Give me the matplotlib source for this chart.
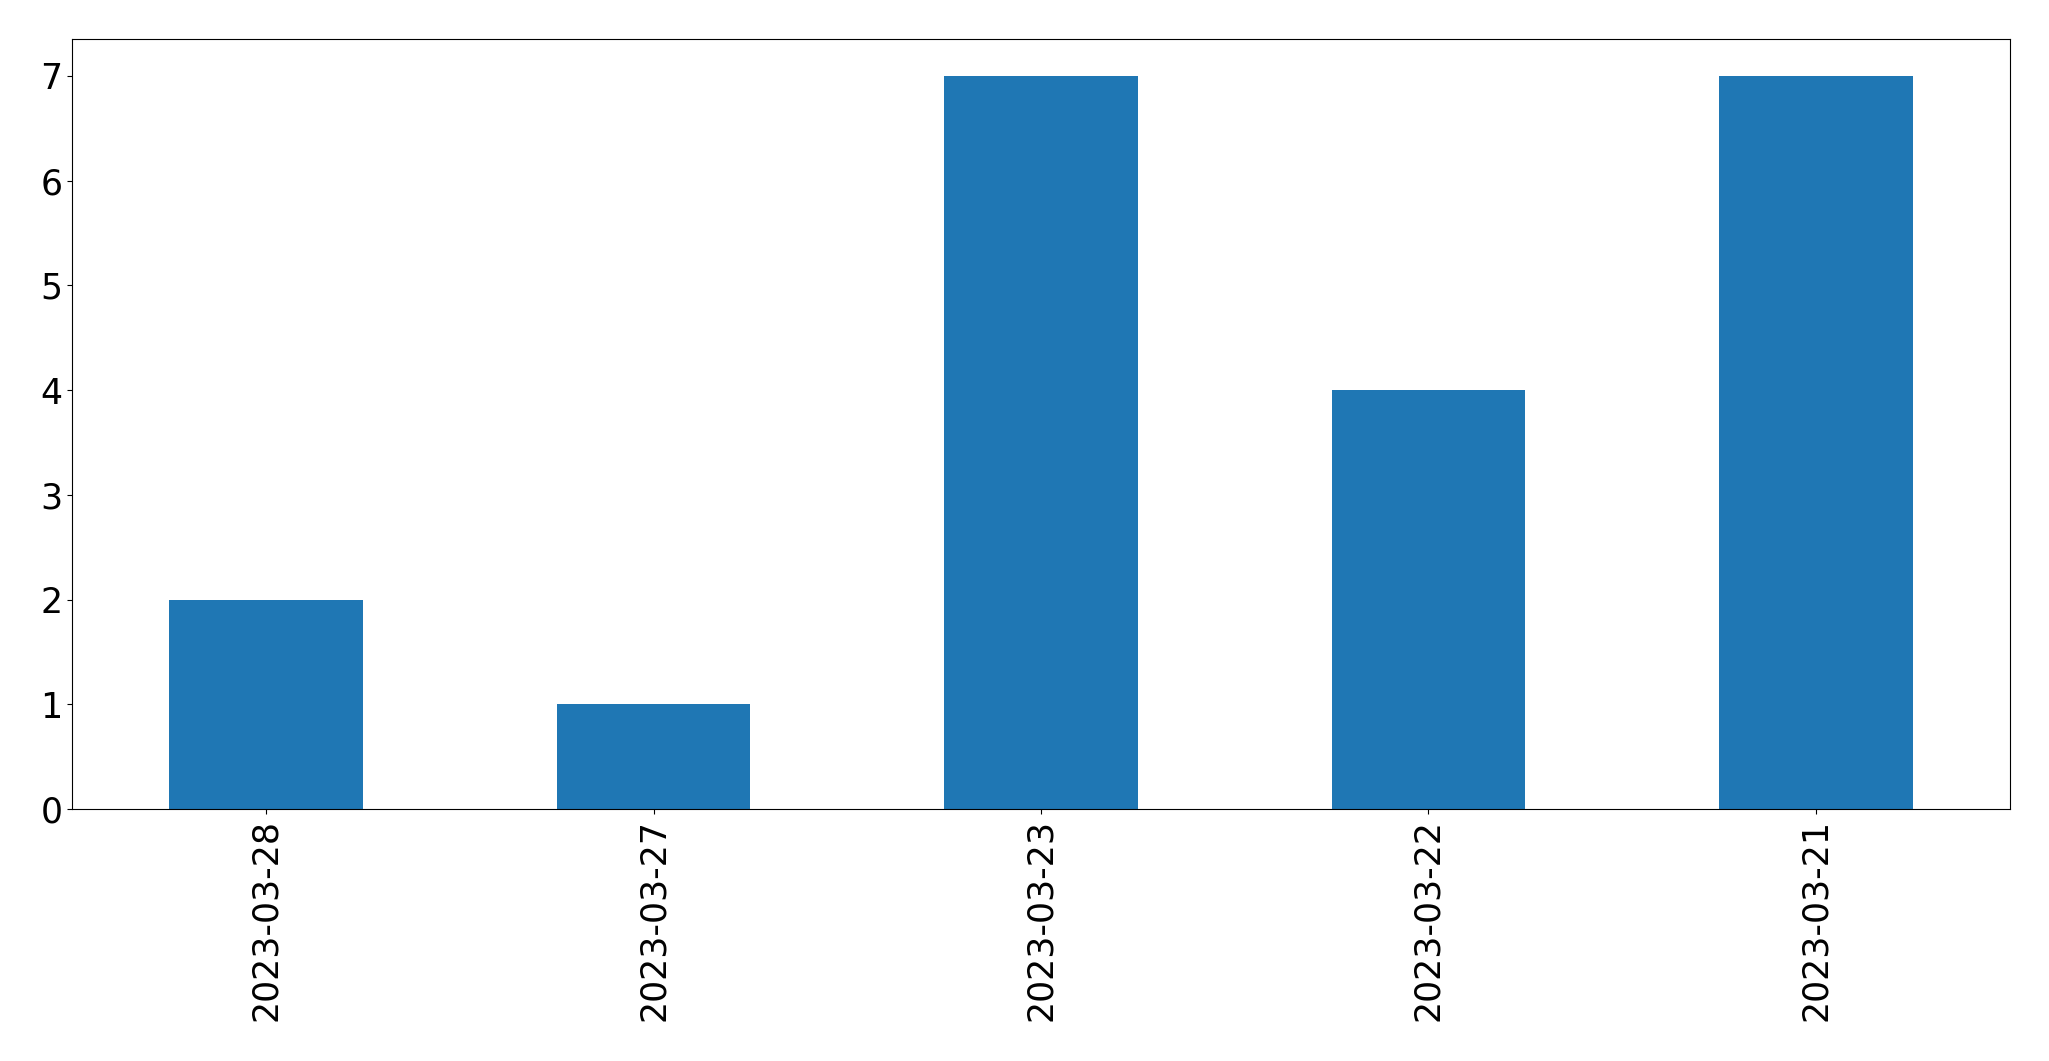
import pandas as pd
import matplotlib
matplotlib.use("Agg")
import matplotlib.pyplot as plt

dates = ["2023-03-28", "2023-03-27", "2023-03-23", "2023-03-22", "2023-03-21"]
counts = [2, 1, 7, 4, 7]

s = pd.Series(counts, index=dates)

fig, ax = plt.subplots(figsize=(20.49, 10.61), dpi=100)
s.plot(kind="bar", ax=ax, color="#1f77b4", fontsize=25)
ax.tick_params(axis="x", labelrotation=90)
fig.subplots_adjust(left=0.0353, right=0.9808, top=0.963, bottom=0.2375)

fig.savefig("out.png", dpi=100)
